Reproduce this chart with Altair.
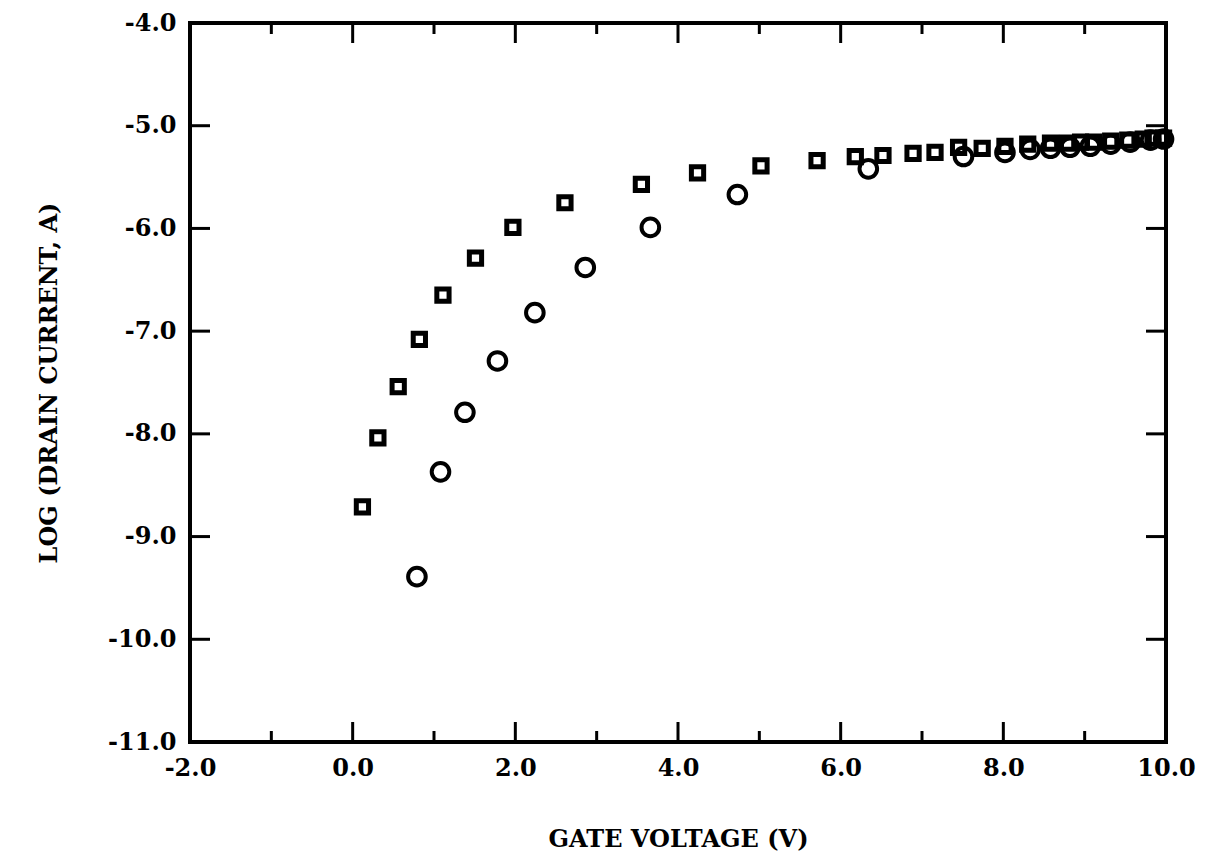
import altair as alt
import pandas as pd

# Square series (gate voltage V, log drain current)
sq_x = [0.12, 0.31, 0.56, 0.82, 1.11, 1.51, 1.97, 2.61, 3.55, 4.24, 5.02, 5.71,
        6.18, 6.52, 6.89, 7.16, 7.45, 7.74, 8.02, 8.30, 8.58, 8.79, 8.95, 9.11,
        9.32, 9.53, 9.72, 9.84, 9.97]
sq_y = [-8.71, -8.04, -7.54, -7.08, -6.65, -6.29, -5.99, -5.75, -5.57, -5.46, -5.39, -5.34,
        -5.30, -5.29, -5.27, -5.26, -5.21, -5.22, -5.20, -5.18, -5.17, -5.17, -5.16, -5.16,
        -5.15, -5.14, -5.13, -5.12, -5.12]

# Circle series
ci_x = [0.79, 1.08, 1.38, 1.78, 2.24, 2.86, 3.66, 4.73, 6.34, 7.51, 8.02, 8.33,
        8.58, 8.82, 9.07, 9.32, 9.56, 9.81, 9.97]
ci_y = [-9.39, -8.37, -7.79, -7.29, -6.82, -6.38, -5.99, -5.67, -5.42, -5.30, -5.26, -5.23,
        -5.22, -5.21, -5.20, -5.18, -5.16, -5.14, -5.13]

x_major = [-2, 0, 2, 4, 6, 8, 10]
x_minor = [-1, 1, 3, 5, 7, 9]
y_major = [-11, -10, -9, -8, -7, -6, -5, -4]

W, H = 976, 719
FONT = "DejaVu Serif"
MAJ, MIN = 20, 11
LABEL_EXPR = "(datum.value < 0 ? '-' : '') + format(abs(datum.value), '.1f')"

xs = alt.Scale(domain=[-2, 10], nice=False, zero=False)
ys = alt.Scale(domain=[-11, -4], nice=False, zero=False)

x_axis = alt.Axis(title="GATE VOLTAGE (V)", values=x_major, labelExpr=LABEL_EXPR, ticks=False,
                  domain=False, grid=False, labelFont=FONT, labelFontWeight="bold",
                  labelFontSize=24, labelColor="black", labelPadding=14, labelFlush=False,
                  labelOverlap=False,
                  titleFont=FONT, titleFontWeight="bold", titleFontSize=24,
                  titleColor="black", titlePadding=47)
y_axis = alt.Axis(title="LOG (DRAIN CURRENT, A)", values=y_major, labelExpr=LABEL_EXPR, ticks=False,
                  domain=False, grid=False, labelFont=FONT, labelFontWeight="bold",
                  labelFontSize=24, labelColor="black", labelPadding=14, labelFlush=False,
                  labelOverlap=False,
                  titleFont=FONT, titleFontWeight="bold", titleFontSize=24,
                  titleColor="black", titlePadding=46)

sq_df = pd.DataFrame({"x": sq_x, "y": sq_y})
ci_df = pd.DataFrame({"x": ci_x, "y": ci_y})

squares = alt.Chart(sq_df).mark_point(shape="square", size=150, strokeWidth=5,
                                       color="black", filled=False, opacity=1).encode(
    x=alt.X("x:Q", scale=xs, axis=x_axis),
    y=alt.Y("y:Q", scale=ys, axis=y_axis),
)
circles = alt.Chart(ci_df).mark_point(shape="circle", size=310, strokeWidth=4,
                                       color="black", filled=False, opacity=1).encode(
    x=alt.X("x:Q", scale=xs, axis=x_axis),
    y=alt.Y("y:Q", scale=ys, axis=y_axis),
)

xmaj_df = pd.DataFrame({"x": [v for v in x_major if -2 < v < 10]})
xmin_df = pd.DataFrame({"x": x_minor})
ymaj_df = pd.DataFrame({"y": [v for v in y_major if -11 < v < -4]})

def xticks(df, length):
    base = alt.Chart(df).mark_rule(color="black", strokeWidth=3)
    bottom = base.encode(x=alt.X("x:Q", scale=xs, axis=x_axis),
                         y=alt.value(H), y2=alt.value(H - length))
    top = base.encode(x=alt.X("x:Q", scale=xs, axis=x_axis),
                      y=alt.value(0), y2=alt.value(length))
    return [bottom, top]

def yticks(df, length):
    base = alt.Chart(df).mark_rule(color="black", strokeWidth=3)
    left = base.encode(y=alt.Y("y:Q", scale=ys, axis=y_axis),
                       x=alt.value(0), x2=alt.value(length))
    right = base.encode(y=alt.Y("y:Q", scale=ys, axis=y_axis),
                        x=alt.value(W), x2=alt.value(W - length))
    return [left, right]

layers = [squares, circles] + xticks(xmaj_df, MAJ) + xticks(xmin_df, MIN) + yticks(ymaj_df, MAJ)

chart = alt.layer(*layers).properties(
    width=W, height=H,
    autosize=alt.AutoSizeParams(type="none"),
    padding={"left": 182, "top": 15, "right": 30, "bottom": 116},
    background="white",
).configure_view(stroke="black", strokeWidth=4)

chart.save("out.html", embed_options={"renderer": "svg", "actions": False})
